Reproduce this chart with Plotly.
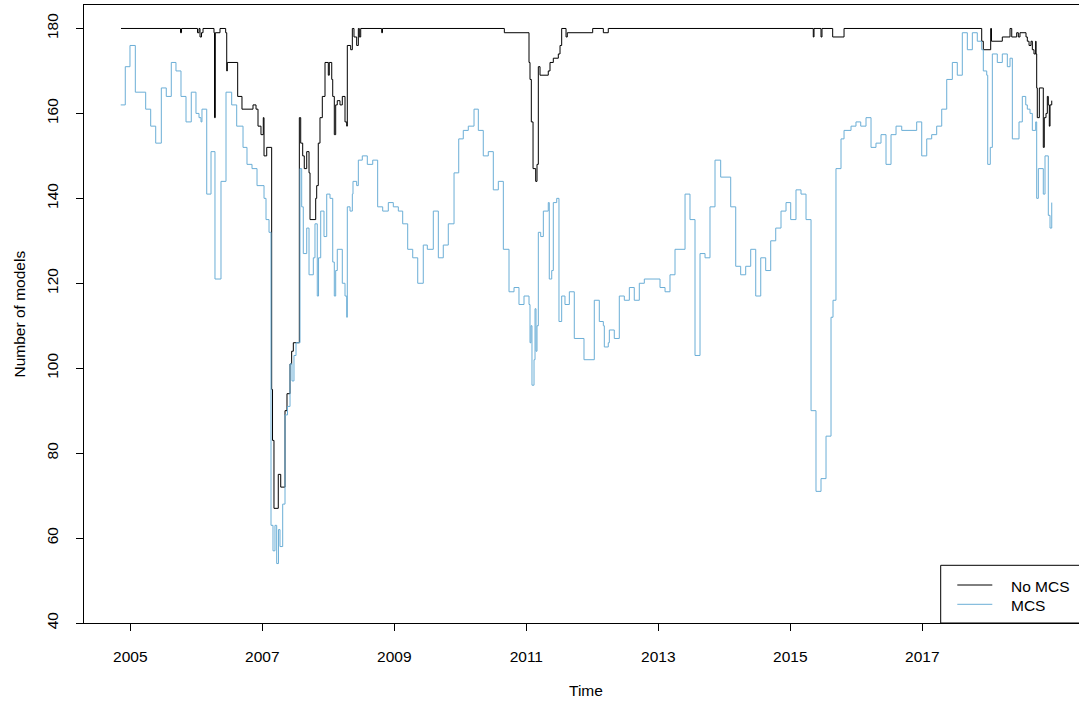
import plotly.graph_objects as go

# ---- data (decimal years, number of models) ----
nomcs_year = [2004.859, 2005.761, 2005.776, 2006.018, 2006.041, 2006.056, 2006.079, 2006.102,
              2006.268, 2006.276, 2006.288, 2006.359, 2006.445, 2006.461, 2006.470, 2006.627,
              2006.692, 2006.859, 2006.905, 2006.935, 2006.980, 2007.015, 2007.026, 2007.067,
              2007.142, 2007.155, 2007.177, 2007.242, 2007.279, 2007.344, 2007.374, 2007.420,
              2007.445, 2007.470, 2007.561, 2007.582, 2007.612, 2007.636, 2007.673, 2007.708,
              2007.723, 2007.809, 2007.824, 2007.848, 2007.874, 2007.909, 2007.950, 2008.000,
              2008.015, 2008.052, 2008.067, 2008.091, 2008.112, 2008.136, 2008.177, 2008.212,
              2008.253, 2008.279, 2008.288, 2008.339, 2008.364, 2008.389, 2008.430, 2008.455,
              2008.470, 2008.491, 2008.809, 2008.821, 2010.667, 2011.041, 2011.056, 2011.076,
              2011.102, 2011.142, 2011.162, 2011.182, 2011.208, 2011.333, 2011.359, 2011.409,
              2011.485, 2011.511, 2011.536, 2011.602, 2011.621, 2012.006, 2012.167, 2012.242,
              2015.348, 2015.359, 2015.465, 2015.480, 2015.642, 2015.814, 2017.900, 2017.924,
              2018.036, 2018.048, 2018.212, 2018.329, 2018.355, 2018.430, 2018.455, 2018.480,
              2018.571, 2018.591, 2018.617, 2018.647, 2018.667, 2018.692, 2018.718, 2018.723,
              2018.733, 2018.742, 2018.773, 2018.818, 2018.833, 2018.848, 2018.874, 2018.894,
              2018.909, 2018.924, 2018.935, 2018.961]
nomcs_value = [180, 179, 180, 179, 180, 178, 179, 180,
               179, 159, 179, 180, 179, 170, 172, 164,
               161, 162, 161, 157, 155, 159, 150, 152,
               95, 83, 67, 75, 72, 90, 94, 101,
               104, 106, 159, 153, 150, 147, 151, 146,
               135, 140, 143, 153, 159, 164, 172, 169,
               172, 168, 164, 155, 162, 163, 162, 164,
               158, 157, 176, 175, 180, 178, 176, 180,
               178, 180, 179, 180, 179, 172, 168, 158,
               147, 144, 148, 171, 169, 170, 172, 173,
               174, 176, 180, 178, 179, 180, 179, 180,
               178, 180, 178, 180, 178, 180, 177, 175,
               180, 177, 178, 180, 178, 179, 178, 179,
               178, 177, 176, 177, 175, 174, 177, 174,
               166, 159, 166, 166, 152, 159, 160, 164,
               162, 157, 162, 163]

mcs_year = [2004.855, 2004.924, 2004.995, 2005.076, 2005.233, 2005.309, 2005.385, 2005.470,
            2005.545, 2005.621, 2005.692, 2005.768, 2005.844, 2005.924, 2005.995, 2006.041,
            2006.071, 2006.086, 2006.158, 2006.223, 2006.283, 2006.374, 2006.450, 2006.536,
            2006.612, 2006.708, 2006.768, 2006.844, 2006.920, 2007.026, 2007.056, 2007.102,
            2007.132, 2007.162, 2007.192, 2007.218, 2007.245, 2007.268, 2007.309, 2007.344,
            2007.382, 2007.420, 2007.450, 2007.480, 2007.511, 2007.571, 2007.597, 2007.621,
            2007.673, 2007.708, 2007.773, 2007.798, 2007.833, 2007.852, 2007.885, 2007.935,
            2007.976, 2008.026, 2008.067, 2008.091, 2008.112, 2008.136, 2008.212, 2008.253,
            2008.279, 2008.288, 2008.329, 2008.364, 2008.374, 2008.430, 2008.455, 2008.515,
            2008.591, 2008.673, 2008.748, 2008.824, 2008.909, 2008.985, 2009.061, 2009.127,
            2009.203, 2009.279, 2009.355, 2009.439, 2009.500, 2009.591, 2009.667, 2009.742,
            2009.818, 2009.905, 2009.976, 2010.045, 2010.121, 2010.208, 2010.273, 2010.348,
            2010.424, 2010.500, 2010.576, 2010.652, 2010.738, 2010.814, 2010.889, 2010.965,
            2011.041, 2011.056, 2011.071, 2011.086, 2011.117, 2011.132, 2011.147, 2011.162,
            2011.182, 2011.218, 2011.258, 2011.333, 2011.348, 2011.385, 2011.409, 2011.461,
            2011.495, 2011.536, 2011.586, 2011.652, 2011.727, 2011.874, 2012.030, 2012.106,
            2012.167, 2012.182, 2012.242, 2012.258, 2012.333, 2012.409, 2012.485, 2012.561,
            2012.636, 2012.712, 2012.788, 2013.026, 2013.102, 2013.177, 2013.253, 2013.405,
            2013.480, 2013.556, 2013.632, 2013.708, 2013.783, 2013.859, 2013.945, 2014.097,
            2014.173, 2014.248, 2014.324, 2014.400, 2014.476, 2014.552, 2014.627, 2014.703,
            2014.779, 2014.859, 2014.935, 2015.006, 2015.086, 2015.162, 2015.238, 2015.314,
            2015.389, 2015.465, 2015.541, 2015.617, 2015.647, 2015.692, 2015.768, 2015.814,
            2015.920, 2015.995, 2016.067, 2016.147, 2016.223, 2016.298, 2016.374, 2016.450,
            2016.526, 2016.602, 2016.688, 2016.915, 2016.991, 2017.067, 2017.142, 2017.218,
            2017.294, 2017.370, 2017.455, 2017.530, 2017.606, 2017.682, 2017.758, 2017.833,
            2017.900, 2017.924, 2017.976, 2017.991, 2018.030, 2018.061, 2018.136, 2018.212,
            2018.288, 2018.329, 2018.364, 2018.465, 2018.515, 2018.567, 2018.591, 2018.632,
            2018.667, 2018.718, 2018.733, 2018.758, 2018.833, 2018.859, 2018.909, 2018.935,
            2018.961]
mcs_value = [162, 171, 176, 165, 161, 157, 153, 166,
             164, 172, 170, 164, 158, 165, 160, 159,
             158, 161, 141, 151, 121, 144, 165, 162,
             157, 152, 148, 147, 143, 140, 135, 132,
             63, 57, 63, 54, 62, 58, 68, 89,
             91, 101, 97, 103, 106, 147, 138, 127,
             133, 122, 126, 134, 117, 126, 137, 131,
             141, 140, 125, 117, 123, 128, 120, 117,
             112, 138, 137, 141, 144, 143, 149, 150,
             148, 149, 138, 137, 139, 138, 137, 134,
             128, 126, 120, 129, 128, 137, 126, 129,
             134, 146, 154, 156, 157, 161, 156, 150,
             151, 142, 144, 128, 118, 119, 115, 117,
             115, 106, 110, 96, 102, 114, 104, 110,
             132, 131, 137, 139, 121, 123, 139, 140,
             111, 117, 115, 118, 107, 102, 116, 111,
             110, 105, 106, 109, 107, 117, 116, 119,
             116, 120, 121, 119, 118, 122, 128, 141,
             135, 103, 127, 126, 138, 149, 145, 138,
             124, 122, 124, 128, 117, 126, 123, 130,
             133, 137, 139, 135, 142, 141, 135, 90,
             71, 74, 84, 112, 116, 147, 154, 156,
             157, 158, 157, 159, 152, 153, 155, 148,
             155, 157, 156, 158, 150, 154, 155, 157,
             161, 168, 172, 169, 179, 175, 179, 177,
             175, 170, 169, 148, 152, 174, 172, 174,
             171, 173, 154, 158, 164, 162, 161, 160,
             156, 158, 140, 147, 141, 150, 136, 133,
             139]

series_names = ["No MCS", "MCS"]
series_colors = ["#000000", "#6BAED6"]
year_ticks = [2005, 2007, 2009, 2011, 2013, 2015, 2017]
value_ticks = [40, 60, 80, 100, 120, 140, 160, 180]

FONT = "Liberation Sans, Arial, Helvetica, sans-serif"
FS = 15.5

fig = go.Figure()
fig.add_trace(go.Scatter(x=nomcs_year, y=nomcs_value, mode="lines", name=series_names[0],
                         line=dict(color=series_colors[0], width=1, shape="hv"), showlegend=False))
fig.add_trace(go.Scatter(x=mcs_year, y=mcs_value, mode="lines", name=series_names[1],
                         line=dict(color=series_colors[1], width=1, shape="hv"), showlegend=False))

W, H = 1079, 702
L, R, T, B = 84, 0, 5, 79
pw, ph = W - L - R, H - T - B

def px(xp):
    return (xp - L) / pw

def py(yp):
    return (H - B - yp) / ph

fig.update_layout(
    width=W, height=H,
    margin=dict(l=L, r=R, t=T, b=B, pad=0),
    paper_bgcolor="white", plot_bgcolor="white",
    font=dict(family=FONT, size=FS, color="black"),
    showlegend=False,
    xaxis=dict(range=[2004.2985, 2019.374], tickmode="array", tickvals=year_ticks,
               ticktext=[str(v) for v in year_ticks], ticks="outside", ticklen=7,
               tickcolor="black", tickwidth=1, showline=True, linecolor="black", linewidth=1,
               mirror=True, showgrid=False, zeroline=False, ticklabelstandoff=12,
               tickfont=dict(family=FONT, size=FS, color="black")),
    yaxis=dict(range=[40, 185.53], tickmode="array", tickvals=value_ticks,
               ticktext=[str(v) for v in value_ticks], ticks="outside", ticklen=7,
               tickcolor="black", tickwidth=1, showline=True, linecolor="black", linewidth=1,
               showgrid=False, zeroline=False, tickangle=-90, ticklabelstandoff=12,
               tickfont=dict(family=FONT, size=FS, color="black")),
)

shapes = [
    # legend box
    dict(type="rect", xref="paper", yref="paper", x0=px(940.7), x1=1.1, y0=0, y1=py(565.3),
         line=dict(color="black", width=1), fillcolor="white", layer="above"),
]
annotations = [
    dict(text="Time", xref="paper", yref="paper", x=px(586), y=py(690), showarrow=False,
         xanchor="center", yanchor="middle", font=dict(family=FONT, size=FS, color="black")),
    dict(text="Number of models", xref="paper", yref="paper", x=px(18.5), y=0.5, showarrow=False,
         textangle=-90, xanchor="center", yanchor="middle",
         font=dict(family=FONT, size=FS, color="black")),
]
for name, color, ycen, ytext in zip(series_names, series_colors, [585, 604.3], [586, 605]):
    shapes.append(dict(type="line", xref="paper", yref="paper", x0=px(957.3), x1=px(992.3),
                       y0=py(ycen), y1=py(ycen), line=dict(color=color, width=1), layer="above"))
    annotations.append(dict(text=name, xref="paper", yref="paper", x=px(1009.3), y=py(ytext),
                            showarrow=False, xanchor="left", yanchor="middle",
                            font=dict(family=FONT, size=FS, color="black")))

fig.update_layout(shapes=shapes, annotations=annotations)
fig.write_html("out.html", config={"displayModeBar": False, "staticPlot": True},
               post_script="document.body.style.margin='0px';document.body.style.padding='0px';")
